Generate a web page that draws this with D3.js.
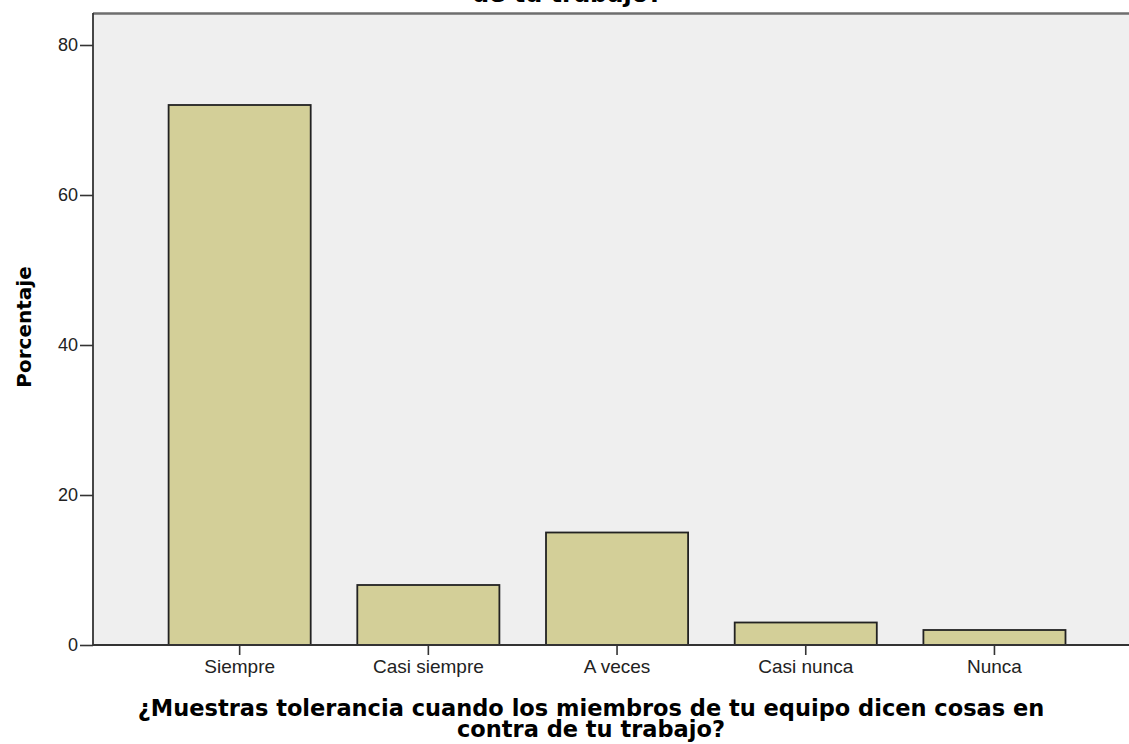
<!DOCTYPE html>
<html>
<head>
<meta charset="utf-8">
<script src="https://cdn.jsdelivr.net/npm/d3@7"></script>
<style>
  html, body { margin: 0; padding: 0; background: #fff; }
  svg { display: block; }
</style>
</head>
<body>
<svg id="chart" width="1129" height="744"></svg>
<script>
// ---- data ----
const categories = ["Siempre", "Casi siempre", "A veces", "Casi nunca", "Nunca"];
const percentages = [72, 8, 15, 3, 2];
const yTicks = [0, 20, 40, 60, 80];
const yLabel = "Porcentaje";
const xTitleLines = ["¿Muestras tolerancia cuando los miembros de tu equipo dicen cosas en", "contra de tu trabajo?"];
const topTitleTail = "de tu trabajo?";

// ---- layout ----
const W = 1129, H = 744;
const plot = { left: 93, top: 13, right: 1129, bottom: 645 };
const svg = d3.select("#chart");

const y = d3.scaleLinear().domain([0, 80]).range([plot.bottom, 45]);
const x = d3.scaleBand().domain(categories).range([145.3, 1088.8])
  .paddingInner(0.247).paddingOuter(0.1235);

// plot background
svg.append("rect")
  .attr("x", plot.left).attr("y", plot.top)
  .attr("width", plot.right - plot.left).attr("height", plot.bottom - plot.top)
  .attr("fill", "#efefef");

// top frame line
svg.append("line")
  .attr("x1", plot.left).attr("x2", plot.right)
  .attr("y1", plot.top + 0.5).attr("y2", plot.top + 0.5)
  .attr("stroke", "#6e6e6e").attr("stroke-width", 2.5);

// top title (clipped remainder)
svg.append("text")
  .attr("x", 567).attr("y", 2)
  .attr("text-anchor", "middle")
  .attr("font-family", "DejaVu Sans")
  .attr("font-weight", "bold")
  .attr("font-size", 24)
  .attr("fill", "#000")
  .text(topTitleTail);

// bars
svg.append("g").selectAll("rect")
  .data(categories.map((c, i) => ({ c, v: percentages[i] })))
  .join("rect")
  .attr("x", d => x(d.c))
  .attr("y", d => y(d.v))
  .attr("width", x.bandwidth())
  .attr("height", d => y(0) - y(d.v))
  .attr("fill", "#d3cf98")
  .attr("stroke", "#222")
  .attr("stroke-width", 1.8);

// y axis
const yAxis = d3.axisLeft(y).tickValues(yTicks).tickSize(13).tickPadding(2).tickFormat(d3.format("d"));
const gy = svg.append("g").attr("transform", `translate(${plot.left},0)`).call(yAxis);
gy.select(".domain").remove();
gy.selectAll(".tick line").attr("stroke", "#333").attr("stroke-width", 1.6);
gy.selectAll(".tick text").attr("font-family", "Liberation Sans").attr("font-size", 18).attr("fill", "#222");
svg.append("line")
  .attr("x1", plot.left).attr("x2", plot.left)
  .attr("y1", plot.top).attr("y2", plot.bottom)
  .attr("stroke", "#333").attr("stroke-width", 1.8);

// x axis
const xAxis = d3.axisBottom(x).tickSize(10).tickPadding(5);
const gx = svg.append("g").attr("transform", `translate(0,${plot.bottom})`).call(xAxis);
gx.select(".domain").remove();
gx.selectAll(".tick line").attr("stroke", "#333").attr("stroke-width", 1.6);
gx.selectAll(".tick text").attr("font-family", "Liberation Sans").attr("font-size", 19).attr("fill", "#222");
svg.append("line")
  .attr("x1", plot.left).attr("x2", plot.right)
  .attr("y1", plot.bottom).attr("y2", plot.bottom)
  .attr("stroke", "#333").attr("stroke-width", 1.8);

// y label
svg.append("text")
  .attr("transform", "translate(31,327) rotate(-90)")
  .attr("text-anchor", "middle")
  .attr("font-family", "DejaVu Sans")
  .attr("font-weight", "bold")
  .attr("font-size", 20)
  .attr("fill", "#000")
  .text(yLabel);

// x title
const xt = svg.append("text")
  .attr("text-anchor", "middle")
  .attr("font-family", "DejaVu Sans")
  .attr("font-weight", "bold")
  .attr("font-size", 22.5)
  .attr("fill", "#000");
xTitleLines.forEach((l, i) => {
  xt.append("tspan").attr("x", 591).attr("y", 716 + i * 21).text(l);
});
</script>
</body>
</html>
